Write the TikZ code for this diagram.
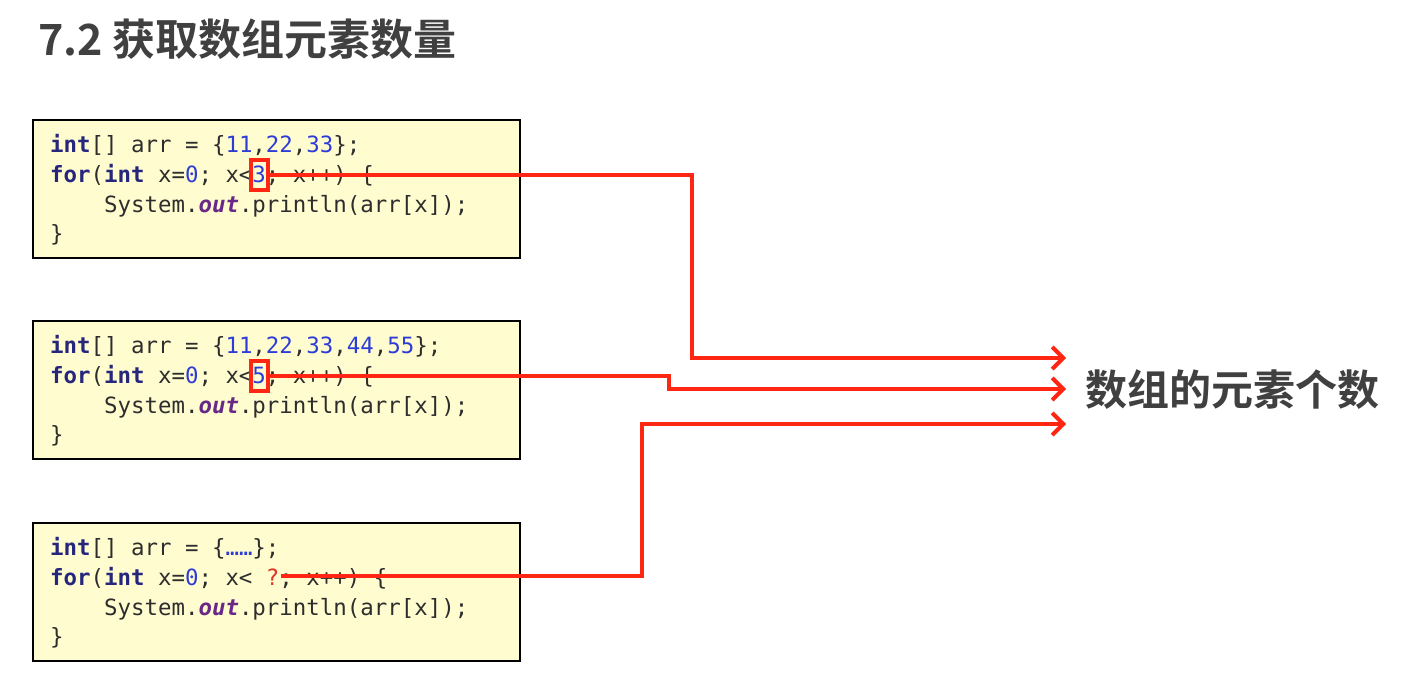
\documentclass[tikz,border=0pt]{standalone}
\usepackage{fontspec}
\setmonofont{DejaVu Sans Mono}
\newfontfamily\cjk{Noto Sans CJK SC}[BoldFont={Noto Sans CJK SC Bold}]
\usetikzlibrary{arrows.meta}
\definecolor{kwc}{RGB}{38,38,125}
\definecolor{numc}{RGB}{45,60,215}
\definecolor{fldc}{RGB}{105,40,135}
\definecolor{qc}{RGB}{225,50,40}
\definecolor{codetxt}{RGB}{45,45,45}
\definecolor{boxfill}{RGB}{255,253,208}
\definecolor{redc}{RGB}{255,38,20}
\definecolor{titlec}{RGB}{64,64,64}
\newcommand\kwd[1]{\textcolor{kwc}{\bfseries #1}}
\newcommand\num[1]{\textcolor{numc}{#1}}
\newcommand\fld[1]{\textcolor{fldc}{\bfseries\itshape #1}}
\begin{document}
\begin{tikzpicture}[x=1pt,y=-1pt,
  codebox/.style={draw=black,line width=2pt,fill=boxfill,minimum width=487pt,minimum height=138pt,anchor=north west,inner sep=0pt},
  codeline/.style={anchor=base west,inner sep=0pt,font=\ttfamily\frenchspacing\fontsize{22.4}{30}\selectfont,text=codetxt},
  hl/.style={draw=redc,line width=3.5pt,minimum width=17pt,minimum height=30pt,inner sep=0pt},
  conn/.style={draw=redc,line width=4pt,-{Straight Barb[length=11pt,width=22pt]}},
  bigtext/.style={inner sep=0pt,font=\cjk\bfseries\fontsize{42}{50}\selectfont,text=titlec}
]
\useasboundingbox (0,0) rectangle (1409,678);
\fill[white] (0,0) rectangle (1409,678);

\node[bigtext,anchor=west,font=\cjk\bfseries\fontsize{43}{50}\selectfont] (title) at (38,39) {7.2 获取数组元素数量};

% box 1
\node[codebox] (b1) at (32,119) {};
\node[codeline] (b1l1) at (50,152) {\kwd{int}[] arr = \{\num{11},\num{22},\num{33}\};};
\node[codeline] (b1l2) at (50,182) {\kwd{for}(\kwd{int} x=\num{0}; x<\num{3}; x++) \{};
\node[codeline] (b1l3) at (50,212) {\phantom{xxxx}System.\fld{out}.println(arr[x]);};
\node[codeline] (b1l4) at (50,241) {\}};

% box 2
\node[codebox] (b2) at (32,320) {};
\node[codeline] (b2l1) at (50,353) {\kwd{int}[] arr = \{\num{11},\num{22},\num{33},\num{44},\num{55}\};};
\node[codeline] (b2l2) at (50,383) {\kwd{for}(\kwd{int} x=\num{0}; x<\num{5}; x++) \{};
\node[codeline] (b2l3) at (50,413) {\phantom{xxxx}System.\fld{out}.println(arr[x]);};
\node[codeline] (b2l4) at (50,442) {\}};

% box 3
\node[codebox] (b3) at (32,522) {};
\node[codeline] (b3l1) at (50,555) {\kwd{int}[] arr = \{\num{……}\};};
\node[codeline] (b3l2) at (50,585) {\kwd{for}(\kwd{int} x=\num{0}; x< \textcolor{qc}{?}; x++) \{};
\node[codeline] (b3l3) at (50,615) {\phantom{xxxx}System.\fld{out}.println(arr[x]);};
\node[codeline] (b3l4) at (50,644) {\}};

% label
\node[bigtext] (lbl) at (1232,390) {数组的元素个数};

% highlights
\node[hl] (h1) at (259.5,175) {};
\node[hl] (h2) at (259.5,376) {};
\coordinate (s3) at (281,576);

\coordinate (t1) at (1066,358);
\coordinate (t2) at (1066,389);
\coordinate (t3) at (1066,424);

\draw[conn] (h1.east) -- ++(422,0) |- (t1);
\draw[conn] (h2.east) -| ++(399,13) -- (t2);
\draw[conn] (s3) -| (642,424) -- (t3);
\end{tikzpicture}
\end{document}
